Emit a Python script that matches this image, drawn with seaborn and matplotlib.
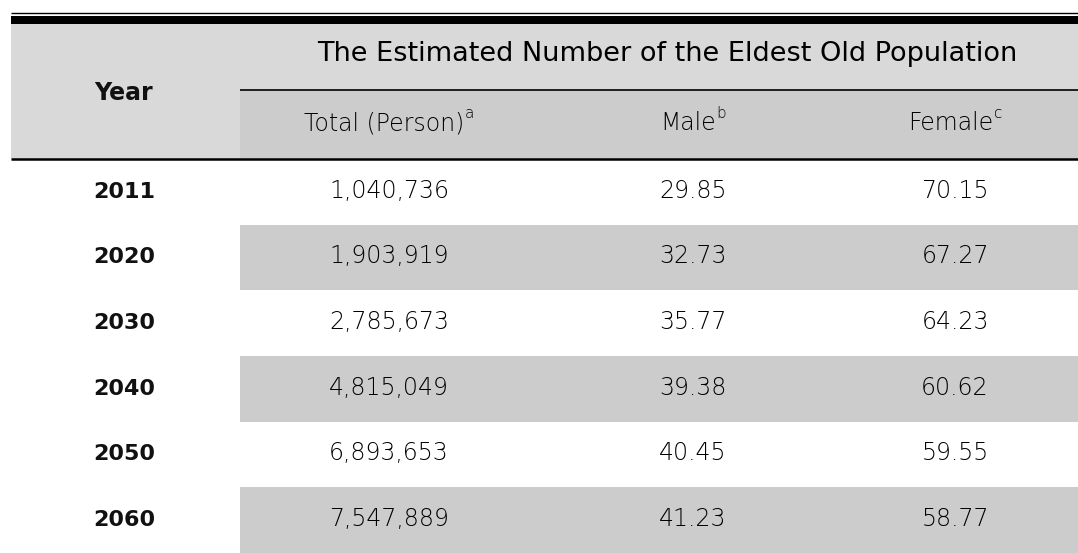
"""
Eldest old population table - redrawn with seaborn/matplotlib
"""
import matplotlib
matplotlib.use('Agg')
import matplotlib.pyplot as plt
import seaborn as sns
import numpy as np
import pandas as pd
from matplotlib.colors import ListedColormap
from matplotlib.patches import Rectangle

sns.set_theme(style='white')
plt.rcParams['font.family'] = ['DejaVu Sans']

# data
years = ['2011', '2020', '2030', '2040', '2050', '2060']
total = ['1,040,736', '1,903,919', '2,785,673', '4,815,049', '6,893,653', '7,547,889']
male = ['29.85', '32.73', '35.77', '39.38', '40.45', '41.23']
female = ['70.15', '67.27', '64.23', '60.62', '59.55', '58.77']
title = 'The Estimated Number of the Eldest Old Population'
col_labels = ['Total (Person)', 'Male', 'Female']
col_notes = ['a', 'b', 'c']

df = pd.DataFrame({'Year': years, 'Total': total, 'Male': male, 'Female': female})

# layout (pixels)
W, H = 1078, 553
left, split = 11, 240
head_top, mid_line, body_top = 24, 90, 159
row_h = (H - body_top) / len(df)
year_x = 124
col_x = [389, 693, 955]
light_gray, dark_gray = '#d9d9d9', '#cccccc'

fig = plt.figure(figsize=(W / 100, H / 100), dpi=100)
ax = fig.add_axes([0, 0, 1, 1])
ax.set_xlim(0, W)
ax.set_ylim(H, 0)
ax.axis('off')

# body shading: alternate rows via heatmap
shade = pd.DataFrame({'s': [i % 2 for i in range(len(df))]})
hax = fig.add_axes([split / W, 0, (W - split) / W, (H - body_top) / H])
sns.heatmap(shade, ax=hax, cmap=ListedColormap(['white', dark_gray]), cbar=False,
            xticklabels=False, yticklabels=False, vmin=0, vmax=1, linewidths=0)
hax.set_zorder(0)
ax.set_zorder(1)
ax.patch.set_alpha(0)

# header boxes and rules
ax.add_patch(Rectangle((left, head_top), W - left, body_top - head_top, color=light_gray, lw=0))
ax.add_patch(Rectangle((split, mid_line), W - split, body_top - mid_line, color=dark_gray, lw=0))
ax.add_patch(Rectangle((left, 15.5), W - left, 8.5, color='black', lw=0))
ax.plot([left, W], [12.8, 12.8], color='black', lw=1.0, solid_capstyle='butt')
ax.plot([split, W], [mid_line, mid_line], color='black', lw=1.2, solid_capstyle='butt')
ax.plot([left, W], [body_top, body_top], color='black', lw=1.8, solid_capstyle='butt')

fs = 17
val_style = dict(fontsize=fs, fontweight='light', color='#000000')
ax.text(year_x, 100, 'Year', ha='center', va='baseline', fontsize=fs, fontweight='bold', color='#111111')
ax.text(667, 61, title, ha='center', va='baseline', fontsize=19.5, color='#000000')

fig.canvas.draw()
renderer = fig.canvas.get_renderer()
inv = ax.transData.inverted()
for x, lab, note in zip(col_x, col_labels, col_notes):
    # centre label + superscript together
    t = ax.text(x, 130, lab, ha='center', va='baseline', **val_style)
    bb = t.get_window_extent(renderer)
    x1 = inv.transform((bb.x1, bb.y1))[0]
    s = ax.text(x1 + 1, 118, note, ha='left', va='baseline', fontsize=11, fontweight='light', color='#000000')
    sw = inv.transform((s.get_window_extent(renderer).x1, 0))[0] - x1
    t.set_x(x - sw / 2)
    s.set_x(x1 + 1 - sw / 2)

for i, row in df.iterrows():
    y = body_top + (i + 0.59) * row_h
    ax.text(year_x, y, row['Year'], ha='center', va='baseline', fontsize=16, fontweight='bold', color='#111111')
    for x, key in zip(col_x, ['Total', 'Male', 'Female']):
        ax.text(x, y, row[key], ha='center', va='baseline', **val_style)

fig.savefig('out.png', dpi=100)
